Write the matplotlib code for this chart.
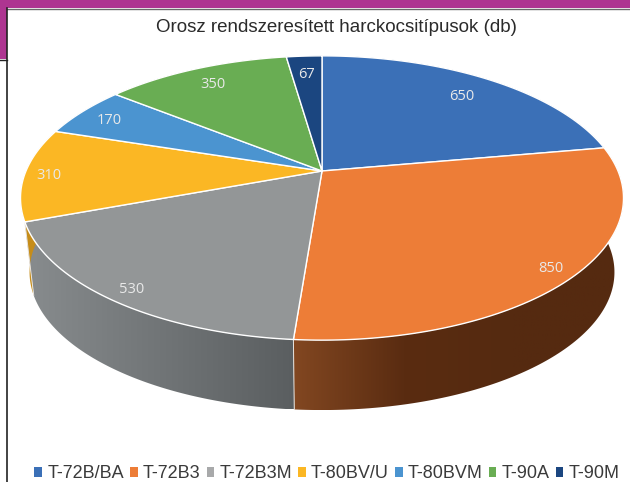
import numpy as np
import matplotlib
matplotlib.use('Agg')
import matplotlib.pyplot as plt
from matplotlib.colors import LinearSegmentedColormap
from matplotlib.patches import Polygon, Rectangle

names = ['T-72B/BA', 'T-72B3', 'T-72B3M', 'T-80BV/U', 'T-80BVM', 'T-90A', 'T-90M']
values = [650, 850, 530, 310, 170, 350, 67]
colors = ['#3b70b7', '#ed7d37', '#939697', '#fbb724', '#4b94d0', '#69ad53', '#1b4680']
legend_colors = ['#3b70b7', '#ed7d37', '#a8a9aa', '#fbb724', '#4b94d0', '#69ad53', '#1b4680']
side_colors = [['#1f3d66', '#1f3d66'],
               ['#824721', '#5a2c11', '#552a10', '#552a10'],
               ['#888c8e', '#5a5e60'],
               ['#c68d1a', '#c68d1a'],
               ['#2a5578', '#2a5578'],
               ['#3b6530', '#3b6530'],
               ['#102a4c', '#102a4c']]
label_r = [0.82, 0.92, 0.92, 0.92, 0.88, 0.85, 0.83]
title = 'Orosz rendszeresített harckocsitípusok (db)'

# pie seen in perspective, angles clockwise from the top
cx, cy = 322, 171
A, B, p = 296, 137, 0.19
drop = 75
shrink = 0.97


def project(theta, r=1.0, lower=False):
    u = r * np.sin(theta)
    v = r * np.cos(theta)
    w = 1 + p * v
    if lower:
        return cx + shrink * A * u / w, cy + drop - shrink * B * v / w
    return cx + A * u / w, cy - B * v / w


fig = plt.figure(figsize=(6.3, 4.82), dpi=100)
ax = fig.add_axes([0, 0, 1, 1])
ax.set_xlim(0, 630)
ax.set_ylim(482, 0)
ax.axis('off')

edges = np.cumsum([0] + values) / sum(values) * 2 * np.pi

# walls first, top face covers the hidden parts
for i in range(len(values)):
    t = np.linspace(edges[i], edges[i + 1], 120)
    x1, y1 = project(t)
    x2, y2 = project(t, lower=True)
    pts = np.column_stack([np.r_[x1, x2[::-1]], np.r_[y1, y2[::-1]]])
    poly = Polygon(pts, closed=True, facecolor='none', edgecolor='none')
    ax.add_patch(poly)
    cmap = LinearSegmentedColormap.from_list('side', side_colors[i])
    grad = np.linspace(0, 1, 256).reshape(1, -1)
    im = ax.imshow(grad, cmap=cmap, aspect='auto', zorder=2,
                   extent=[pts[:, 0].min(), pts[:, 0].max(), pts[:, 1].max(), pts[:, 1].min()])
    im.set_clip_path(poly)
    ax.plot([x1[0], x2[0]], [y1[0], y2[0]], color='#e8e4df', lw=0.7, zorder=3)
ax.set_xlim(0, 630)
ax.set_ylim(482, 0)

for i in range(len(values)):
    t = np.linspace(edges[i], edges[i + 1], 120)
    x1, y1 = project(t)
    pts = np.column_stack([np.r_[cx, x1], np.r_[cy, y1]])
    ax.add_patch(Polygon(pts, closed=True, facecolor=colors[i], edgecolor='white',
                         lw=1.0, joinstyle='round', zorder=4))
    mid = (edges[i] + edges[i + 1]) / 2
    lx, ly = project(mid, label_r[i])
    ax.text(lx, ly + 2, str(values[i]), family='Open Sans', fontsize=10.5, color='#e9e9e9',
            ha='center', va='center', zorder=5)

ax.text(336, 28, title, family='Liberation Sans', fontsize=13.5, color='#2b2b2b',
        ha='center', va='center', zorder=5)

# purple header and frame of the page
ax.add_patch(Rectangle((0, 0), 630, 8, facecolor='#ae3591', edgecolor='none', zorder=6))
ax.add_patch(Rectangle((0, 0), 6.5, 59, facecolor='#ae3591', edgecolor='none', zorder=6))
ax.plot([6.5, 630], [8.5, 8.5], color='#6a6a6a', lw=1.0, zorder=7)
ax.plot([6.5, 6.5], [8, 482], color='#222222', lw=1.2, zorder=7)
ax.plot([0, 6.5], [59.5, 59.5], color='#222222', lw=1.0, zorder=7)

handles = [Rectangle((0, 0), 1, 1, facecolor=c, edgecolor='none') for c in legend_colors]
ax.legend(handles, names, ncol=7, frameon=False, loc='center',
          bbox_to_anchor=(327, 474), bbox_transform=ax.transData,
          prop={'family': 'Liberation Sans', 'size': 13}, labelcolor='#3a3a3a',
          handlelength=0.42, handleheight=0.42, handletextpad=0.28,
          columnspacing=0.35, borderpad=0, borderaxespad=0)

fig.savefig('out.png', dpi=100)
